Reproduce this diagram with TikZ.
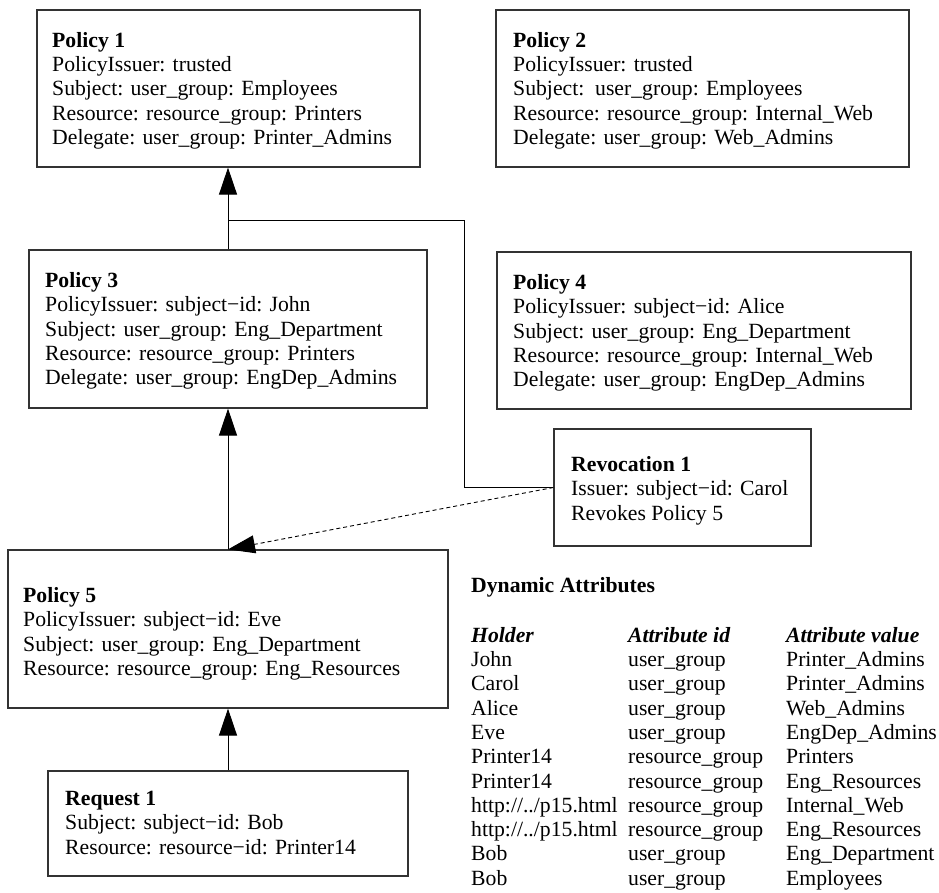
\documentclass[tikz,border=0pt]{standalone}
\usepackage{fontspec}
\setmainfont{Liberation Serif}
\usetikzlibrary{arrows.meta,calc}
\tikzset{
  box/.style={draw=black!80, line width=1.2pt, rectangle, inner sep=0pt},
  txt/.style={anchor=north west, inner sep=0pt, align=left, font=\fontsize{21.7}{24.4}\selectfont},
  conn/.style={line width=1pt, black},
  arr/.style={conn, -{Triangle[length=27pt,width=18pt]}},
  darr/.style={line width=0.9pt, black, dash pattern=on 4pt off 3pt, -{Triangle[length=27pt,width=18pt]}}
}
\begin{document}
\begin{tikzpicture}[x=1pt,y=-1pt]
\useasboundingbox (0,0) rectangle (939,893);
% boxes
\node[box, minimum width=383pt, minimum height=157pt] (p1) at (228.5,88.5) {};
\node[box, minimum width=413pt, minimum height=157pt] (p2) at (702.5,88.5) {};
\node[box, minimum width=398pt, minimum height=158pt] (p3) at (228,329) {};
\node[box, minimum width=414pt, minimum height=157pt] (p4) at (704,330.5) {};
\node[box, minimum width=257pt, minimum height=117pt] (rev) at (682.5,487.5) {};
\node[box, minimum width=440pt, minimum height=158pt] (p5) at (228,629) {};
\node[box, minimum width=360pt, minimum height=105pt] (req) at (228,823.5) {};
% texts
\node[txt] (t1) at (52,{47-17.08}) {\strut\textbf{Policy 1}\\PolicyIssuer: trusted\\Subject: user\_group: Employees\\Resource: resource\_group: Printers\\Delegate: user\_group: Printer\_Admins};
\node[txt] (t2) at (513,{47-17.08}) {\strut\textbf{Policy 2}\\PolicyIssuer: trusted\\Subject:\ \ user\_group: Employees\\Resource: resource\_group: Internal\_Web\\Delegate: user\_group: Web\_Admins};
\node[txt] (t3) at (45,{287-17.08}) {\strut\textbf{Policy 3}\\PolicyIssuer: subject−id: John\\Subject: user\_group: Eng\_Department\\Resource: resource\_group: Printers\\Delegate: user\_group: EngDep\_Admins};
\node[txt] (t4) at (513,{289-17.08}) {\strut\textbf{Policy 4}\\PolicyIssuer: subject−id: Alice\\Subject: user\_group: Eng\_Department\\Resource: resource\_group: Internal\_Web\\Delegate: user\_group: EngDep\_Admins};
\node[txt] (tr) at (571,{471-17.08}) {\strut\textbf{Revocation 1}\\Issuer: subject−id: Carol\\Revokes Policy 5};
\node[txt] (t5) at (23,{602-17.08}) {\strut\textbf{Policy 5}\\PolicyIssuer: subject−id: Eve\\Subject: user\_group: Eng\_Department\\Resource: resource\_group: Eng\_Resources};
\node[txt] (tq) at (65,{805-17.08}) {\strut\textbf{Request 1}\\Subject: subject−id: Bob\\Resource: resource−id: Printer14};
\node[txt] (dyn) at (471,{592-17.08}) {\strut\textbf{Dynamic Attributes}};
\node[txt] (tab) at (471,{642-17.01}) {\fontsize{21.7}{24.3}\selectfont\begin{tabular}{@{}p{157pt}@{}p{158pt}@{}l@{}}
\textbf{\textit{Holder}} & \textbf{\textit{Attribute id}} & \textbf{\textit{Attribute value}}\\
John & user\_group & Printer\_Admins\\
Carol & user\_group & Printer\_Admins\\
Alice & user\_group & Web\_Admins\\
Eve & user\_group & EngDep\_Admins\\
Printer14 & resource\_group & Printers\\
Printer14 & resource\_group & Eng\_Resources\\
http://../p15.html & resource\_group & Internal\_Web\\
http://../p15.html & resource\_group & Eng\_Resources\\
Bob & user\_group & Eng\_Department\\
Bob & user\_group & Employees
\end{tabular}};
% connectors
\coordinate (k) at (464,221);
\coordinate (j) at (p3.north |- k);
\draw[arr] (p3.north) -- (p3.north |- p1.south);
\draw[conn] (rev.west) -- (rev.west -| k) -- (k) -- (j);
\draw[darr] (rev.west) -- (p5.north);
\draw[arr] (p5.north) -- (p3.south);
\draw[arr] (req.north) -- (p5.south);
\end{tikzpicture}
\end{document}
